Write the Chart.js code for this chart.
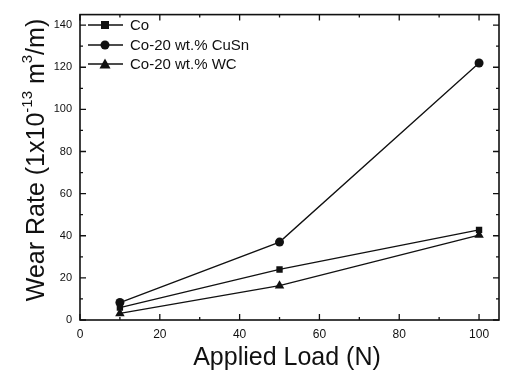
<!DOCTYPE html>
<html>
<head>
<meta charset="utf-8">
<script src="https://cdn.jsdelivr.net/npm/chart.js@4"></script>
<style>
  html, body { margin: 0; padding: 0; background: #fff; }
  #wrap { width: 506px; height: 372px; }
</style>
</head>
<body>
<div id="wrap"><canvas id="wearChart"></canvas></div>
<script>
const loads = [10, 50, 100];
const coRate = [5.9, 24, 42.8];
const cuSnRate = [8.3, 37, 122];
const wcRate = [3.1, 16.3, 40.3];
const seriesNames = ['Co', 'Co-20 wt.% CuSn', 'Co-20 wt.% WC'];
const markerStyles = ['rect', 'circle', 'triangle'];
const xMajorTicks = [0, 20, 40, 60, 80, 100];
const yMajorTicks = [0, 20, 40, 60, 80, 100, 120, 140];

const ink = '#111';
const fontFamily = 'Arial, "Liberation Sans", sans-serif';

// inward ticks on all four sides, frame, legend and axis titles
const framePlugin = {
  id: 'frame',
  afterDraw(chart) {
    const ctx = chart.ctx;
    const { left, right, top, bottom } = chart.chartArea;
    const xs = chart.scales.x;
    const ys = chart.scales.y;
    ctx.save();
    ctx.strokeStyle = ink;
    ctx.lineWidth = 1.6;
    ctx.strokeRect(left, top, right - left, bottom - top);

    ctx.lineWidth = 1.3;
    ctx.beginPath();
    for (let v = 0; v <= 100; v += 10) {
      const px = xs.getPixelForValue(v);
      const len = v % 20 === 0 ? 6 : 3;
      ctx.moveTo(px, bottom); ctx.lineTo(px, bottom - len);
      ctx.moveTo(px, top); ctx.lineTo(px, top + len);
    }
    for (let v = 0; v <= 140; v += 10) {
      const py = ys.getPixelForValue(v);
      const len = v % 20 === 0 ? 6 : 3;
      ctx.moveTo(left, py); ctx.lineTo(left + len, py);
      ctx.moveTo(right, py); ctx.lineTo(right - len, py);
    }
    ctx.stroke();

    // legend
    ctx.font = '15px ' + fontFamily;
    ctx.fillStyle = ink;
    ctx.textBaseline = 'middle';
    const rowY = [25, 45, 64];
    chart.data.datasets.forEach((ds, i) => {
      const y = rowY[i];
      ctx.beginPath();
      ctx.lineWidth = 1.3;
      ctx.moveTo(88, y); ctx.lineTo(123, y);
      ctx.stroke();
      drawMarker(ctx, markerStyles[i], 105, y);
      ctx.fillText(ds.label, 130, y + 1);
    });

    // x title
    ctx.font = '25px ' + fontFamily;
    ctx.textAlign = 'center';
    ctx.textBaseline = 'alphabetic';
    ctx.fillText('Applied Load (N)', 287, 365);

    // y title with superscripts
    const parts = [
      ['Wear Rate (1x10', false],
      ['-13', true],
      [' m', false],
      ['3', true],
      ['/m)', false]
    ];
    const mainFont = '25px ' + fontFamily;
    const supFont = '15px ' + fontFamily;
    let total = 0;
    parts.forEach(([t, sup]) => {
      ctx.font = sup ? supFont : mainFont;
      total += ctx.measureText(t).width;
    });
    ctx.translate(44, 160);
    ctx.rotate(-Math.PI / 2);
    ctx.textAlign = 'left';
    let x = -total / 2;
    parts.forEach(([t, sup]) => {
      ctx.font = sup ? supFont : mainFont;
      ctx.fillText(t, x, sup ? -12 : 0);
      x += ctx.measureText(t).width;
    });
    ctx.restore();
  }
};

function drawMarker(ctx, style, x, y) {
  ctx.fillStyle = ink;
  ctx.beginPath();
  if (style === 'rect') {
    ctx.rect(x - 4, y - 4, 8, 8);
  } else if (style === 'circle') {
    ctx.arc(x, y, 4.5, 0, Math.PI * 2);
  } else {
    ctx.moveTo(x, y - 5.5);
    ctx.lineTo(x + 5.5, y + 4.5);
    ctx.lineTo(x - 5.5, y + 4.5);
    ctx.closePath();
  }
  ctx.fill();
}

function makeSet(label, values, style) {
  return {
    label: label,
    data: loads.map((l, i) => ({ x: l, y: values[i] })),
    borderColor: ink,
    backgroundColor: ink,
    borderWidth: 1.3,
    pointStyle: style,
    pointRadius: style === 'triangle' ? 5.5 : 4.5,
    pointBorderWidth: 0,
    tension: 0
  };
}

new Chart(document.getElementById('wearChart').getContext('2d'), {
  type: 'line',
  data: {
    datasets: [
      makeSet(seriesNames[0], coRate, markerStyles[0]),
      makeSet(seriesNames[1], cuSnRate, markerStyles[1]),
      makeSet(seriesNames[2], wcRate, markerStyles[2])
    ]
  },
  options: {
    responsive: true,
    maintainAspectRatio: false,
    animation: false,
    layout: { padding: { top: 8, right: 7, left: 0, bottom: 0 } },
    scales: {
      x: {
        type: 'linear',
        min: 0,
        max: 105,
        afterBuildTicks: (scale) => { scale.ticks = xMajorTicks.map(v => ({ value: v })); },
        afterFit: (scale) => { scale.height = 52; },
        grid: { display: false, drawTicks: false },
        border: { display: false },
        ticks: { color: ink, padding: 7, maxRotation: 0, font: { family: fontFamily, size: 12 } }
      },
      y: {
        type: 'linear',
        min: 0,
        max: 145,
        afterBuildTicks: (scale) => { scale.ticks = yMajorTicks.map(v => ({ value: v })); },
        afterFit: (scale) => { scale.width = 80; },
        grid: { display: false, drawTicks: false },
        border: { display: false },
        ticks: { color: ink, padding: 8, font: { family: fontFamily, size: 11 } }
      }
    },
    plugins: {
      legend: { display: false },
      tooltip: { enabled: false }
    }
  },
  plugins: [framePlugin]
});
</script>
</body>
</html>
